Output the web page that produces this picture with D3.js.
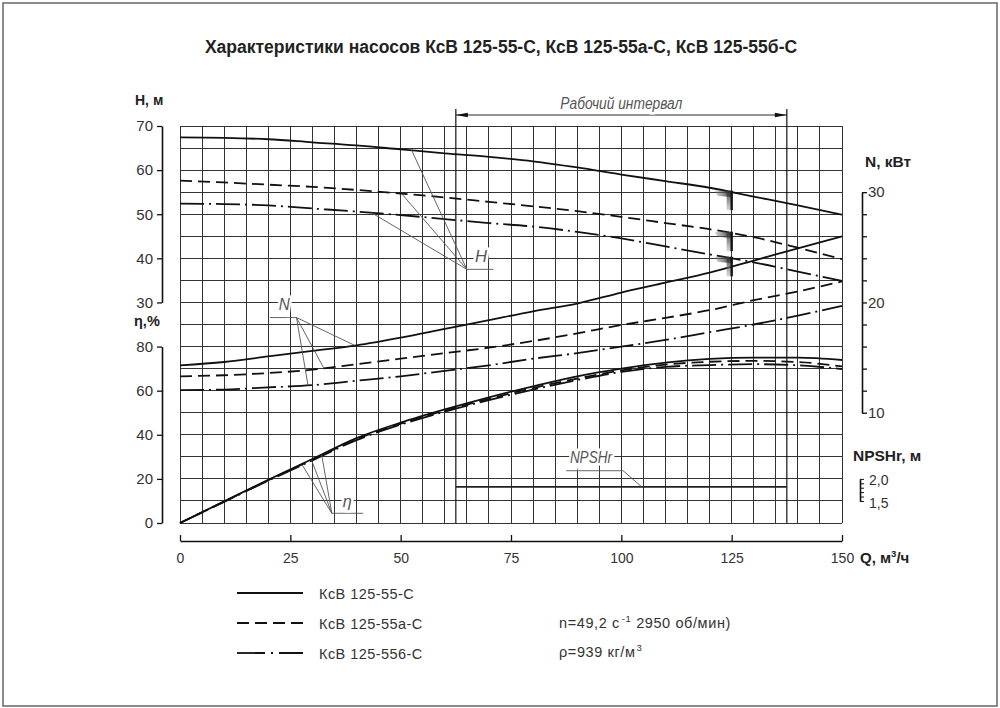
<!DOCTYPE html>
<html>
<head>
<meta charset="utf-8">
<script src="https://cdn.jsdelivr.net/npm/d3@7"></script>
<style>
  body { margin: 0; background: #fff; }
  svg { display: block; }
  text { font-family: "Liberation Sans", Arial, sans-serif; }
</style>
</head>
<body>
<svg id="chart" width="1000" height="708"></svg>
<script>
// flow, m3/h
const qValues = [0, 10, 20, 30, 40, 50, 60, 70, 80, 90, 100, 110, 120, 130, 140, 150];

// head H, m
const headA = [67.4, 67.3, 67.0, 66.3, 65.6, 64.7, 63.8, 63.0, 62.0, 60.6, 59.0, 57.5, 56.0, 54.0, 52.0, 49.9];
const headB = [57.6, 57.2, 56.7, 56.2, 55.5, 54.7, 53.8, 52.8, 51.8, 50.7, 49.4, 48.0, 46.6, 44.8, 42.4, 39.8];
const headC = [52.4, 52.3, 52.0, 51.3, 50.6, 49.8, 48.9, 48.0, 47.2, 46.0, 44.5, 42.7, 40.9, 39.1, 37.0, 34.9];

// power N, kW
const powerA = [14.3, 14.6, 15.1, 15.6, 16.1, 16.8, 17.6, 18.4, 19.2, 19.9, 20.9, 21.8, 22.7, 23.8, 24.9, 26.0];
const powerB = [13.3, 13.4, 13.6, 13.9, 14.4, 14.9, 15.4, 15.9, 16.5, 17.2, 17.95, 18.6, 19.3, 20.2, 21.0, 21.9];
const powerC = [12.05, 12.1, 12.3, 12.5, 12.9, 13.3, 13.8, 14.3, 14.9, 15.4, 16.0, 16.6, 17.3, 18.0, 18.8, 19.7];

// efficiency, %
const effA = [0, 9.8, 19.6, 29.0, 38.5, 45.5, 51.5, 57.0, 62.0, 66.5, 70.0, 72.7, 74.4, 75.0, 75.0, 73.9];
const effB = [0, 9.7, 19.4, 28.7, 38.0, 45.0, 51.0, 56.3, 61.2, 65.5, 69.2, 71.8, 73.1, 73.5, 73.0, 71.0];
const effC = [0, 9.6, 19.2, 28.4, 37.6, 44.6, 50.5, 55.7, 60.5, 64.8, 68.5, 70.8, 71.6, 72.0, 71.5, 69.8];

// NPSHr, m (over the working interval)
const npshQ = [62.5, 137.5];
const npshValues = [1.82, 1.82];

const workRange = [62.5, 137.5];
const boundaryQ = 125;

const pumpNames = ['КсВ 125-55-С', 'КсВ 125-55а-С', 'КсВ 125-556-С'];
const xTicks = [0, 25, 50, 75, 100, 125, 150];
const hTicks = [30, 40, 50, 60, 70];
const etaTicks = [0, 20, 40, 60, 80];
const nTicks = [10, 12, 14, 16, 18, 20, 22, 24, 26, 28, 30];
const nLabels = [10, 20, 30];
const npshTicks = [1.5, 1.6, 1.7, 1.8, 1.9, 2.0];
const npshLabels = [1.5, 2.0];

const dashes = [null, '12,6', '24,5,2,5'];

//------------------------------------------------

const svg = d3.select('#chart');
const plotTop = 126, plotBottom = 523;
const row = (plotBottom - plotTop) / 18;

const x = d3.scaleLinear().domain([0, 150]).range([180, 842]);
const yEta = d3.scaleLinear().domain([0, 100]).range([plotBottom, plotBottom - 10 * row]);
const yH = d3.scaleLinear().domain([30, 70]).range([plotTop + 8 * row, plotTop]);
const yN = d3.scaleLinear().domain([10, 30]).range([plotTop + 13 * row, plotTop + 3 * row]);
const yNpsh = d3.scaleLinear().domain([1.5, 2.0]).range([plotTop + 17 * row, plotTop + 16 * row]);

function interp(values, q) {
  const i = Math.min(qValues.length - 2, Math.floor(q / 10));
  const t = (q - qValues[i]) / (qValues[i + 1] - qValues[i]);
  return values[i] + t * (values[i + 1] - values[i]);
}

// frame
svg.append('rect')
  .attr('x', 3).attr('y', 3).attr('width', 994).attr('height', 703)
  .attr('fill', '#fff').attr('stroke', '#666').attr('stroke-width', 1.5);

// title
svg.append('text')
  .attr('x', 501).attr('y', 53)
  .attr('text-anchor', 'middle')
  .attr('font-size', 17.5).attr('font-weight', 'bold').attr('fill', '#222')
  .text('Характеристики насосов КсВ 125-55-С, КсВ 125-55а-С, КсВ 125-55б-С');

// grid
const grid = svg.append('g')
  .attr('stroke', '#333').attr('stroke-width', 1).attr('shape-rendering', 'crispEdges');
grid.selectAll('line.v').data(d3.range(0, 151, 5)).join('line').attr('class', 'v')
  .attr('x1', d => x(d)).attr('x2', d => x(d))
  .attr('y1', plotTop).attr('y2', plotBottom);
grid.selectAll('line.h').data(d3.range(0, 181, 10)).join('line').attr('class', 'h')
  .attr('x1', x(0)).attr('x2', x(150))
  .attr('y1', d => yEta(d)).attr('y2', d => yEta(d));

// working interval
const work = svg.append('g').attr('stroke', '#111');
work.selectAll('line.wv').data(workRange).join('line').attr('class', 'wv')
  .attr('x1', d => x(d)).attr('x2', d => x(d))
  .attr('y1', 109).attr('y2', plotBottom)
  .attr('stroke-width', 1.2);
work.append('line')
  .attr('x1', x(workRange[0])).attr('x2', x(workRange[1]))
  .attr('y1', 115).attr('y2', 115).attr('stroke-width', 0.9);
work.selectAll('path.arr').data(workRange).join('path').attr('class', 'arr')
  .attr('fill', '#111').attr('stroke', 'none')
  .attr('d', (d, i) => {
    const px = x(d), s = i === 0 ? 1 : -1;
    return `M${px},115 L${px + s * 12},112.8 L${px + s * 12},117.2 Z`;
  });

function cadText(px, py, txt, width) {
  return svg.append('text')
    .attr('x', px).attr('y', py)
    .attr('text-anchor', 'middle')
    .attr('font-style', 'italic').attr('font-size', 16).attr('fill', '#555')
    .attr('textLength', width).attr('lengthAdjust', 'spacingAndGlyphs')
    .attr('stroke', '#fff').attr('stroke-width', 5).attr('paint-order', 'stroke')
    .text(txt);
}
cadText((x(workRange[0]) + x(workRange[1])) / 2, 109, 'Рабочий интервал', 122);

// curves
const heads = [headA, headB, headC];
const powers = [powerA, powerB, powerC];
const effs = [effA, effB, effC];

function drawCurves(sets, yScale) {
  const line = d3.line()
    .x((d, i) => x(qValues[i]))
    .y(d => yScale(d))
    .curve(d3.curveMonotoneX);
  svg.append('g').selectAll('path').data(sets).join('path')
    .attr('d', line)
    .attr('fill', 'none').attr('stroke', '#111').attr('stroke-width', 1.8)
    .attr('stroke-dasharray', (d, i) => dashes[i]);
}
drawCurves(heads, yH);
drawCurves(powers, yN);
drawCurves(effs, yEta);

// NPSHr
svg.append('path')
  .datum(npshValues)
  .attr('d', d3.line().x((d, i) => x(npshQ[i])).y(d => yNpsh(d)))
  .attr('fill', 'none').attr('stroke', '#222').attr('stroke-width', 1.6);

// boundary marks at Q = 125 on H curves
const defs = svg.append('defs');
const fade = defs.append('linearGradient').attr('id', 'fade')
  .attr('x1', 0).attr('x2', 1).attr('y1', 0).attr('y2', 0);
fade.append('stop').attr('offset', '0%').attr('stop-color', '#888').attr('stop-opacity', 0.35);
fade.append('stop').attr('offset', '100%').attr('stop-color', '#222').attr('stop-opacity', 0.95);
const fadeDown = defs.append('linearGradient').attr('id', 'fadeDown')
  .attr('x1', 0).attr('x2', 0).attr('y1', 0).attr('y2', 1);
fadeDown.append('stop').attr('offset', '0%').attr('stop-color', '#333').attr('stop-opacity', 0.9);
fadeDown.append('stop').attr('offset', '100%').attr('stop-color', '#999').attr('stop-opacity', 0.4);

const marks = svg.append('g');
heads.forEach(h => {
  const px = x(boundaryQ), py = yH(interp(h, boundaryQ));
  marks.append('path')
    .attr('d', `M${px - 17},${py - 1.5} L${px},${py - 1.5} L${px},${py + 5} L${px - 14},${py + 3.5} Z`)
    .attr('fill', 'url(#fade)');
  marks.append('rect')
    .attr('x', px - 5).attr('y', py).attr('width', 5).attr('height', 18)
    .attr('fill', 'url(#fadeDown)');
  marks.append('line')
    .attr('x1', px).attr('x2', px).attr('y1', py - 1.5).attr('y2', py + 18)
    .attr('stroke', '#111').attr('stroke-width', 2.4);
});

// leader annotations
const leaderColor = '#555';
function leader(anchor, endQ, targets, yScale) {
  const g = svg.append('g').attr('stroke', leaderColor).attr('stroke-width', 0.9).attr('fill', 'none');
  g.append('line')
    .attr('x1', x(anchor[0])).attr('x2', x(endQ))
    .attr('y1', yScale(anchor[1])).attr('y2', yScale(anchor[1]));
  targets.forEach(t => {
    g.append('line')
      .attr('x1', x(anchor[0])).attr('y1', yScale(anchor[1]))
      .attr('x2', x(t[0])).attr('y2', t[1]);
  });
}

leader([65, 37.5], 71, [[52.5, yH(interp(headA, 52.5))], [50.2, yH(interp(headB, 50.2))], [43.4, yH(interp(headC, 43.4))]], yH);
cadText(x(68.2), 262, 'H', 12);

leader([26.4, 18.63], 20.4, [[39.7, yN(interp(powerA, 39.7))], [32.6, yN(interp(powerB, 32.6))], [29.0, yN(interp(powerC, 29.0))]], yN);
cadText(x(23.6), 310, 'N', 11);

leader([34.4, 4.4], 41.5, [[27.7, yEta(interp(effC, 27.7))], [29.8, yEta(interp(effB, 29.8))], [32.1, yEta(interp(effA, 32.1))]], yEta);
cadText(x(37.9), 507, 'η', 9);

// NPSHr leader
const npshLead = svg.append('g').attr('stroke', leaderColor).attr('stroke-width', 0.9);
npshLead.append('line').attr('x1', x(87.5)).attr('x2', x(100.4)).attr('y1', yEta(23.7)).attr('y2', yEta(23.7));
npshLead.append('line').attr('x1', x(100.4)).attr('x2', x(104.6)).attr('y1', yEta(23.7)).attr('y2', yNpsh(npshValues[0]));
cadText(x(93.1), 463, 'NPSHr', 42);

// axes
function styleAxis(g) {
  g.attr('font-family', null).attr('font-size', null);
  g.select('.domain').attr('stroke', '#111').attr('stroke-width', 1.6);
  g.selectAll('.tick line').attr('stroke', '#111').attr('stroke-width', 1.3);
  g.selectAll('.tick text').attr('fill', '#333').attr('font-size', 14);
}

svg.append('g').attr('transform', 'translate(162,0)')
  .call(d3.axisLeft(yH).tickValues(hTicks).tickSize(5).tickSizeOuter(0).tickPadding(4))
  .call(styleAxis)
  .call(g => g.selectAll('.tick text').attr('font-size', 15));

const etaAxis = d3.scaleLinear().domain([0, 80]).range([yEta(0), yEta(80)]);
svg.append('g').attr('transform', 'translate(162,0)')
  .call(d3.axisLeft(etaAxis).tickValues(etaTicks).tickSize(5).tickSizeOuter(0).tickPadding(4))
  .call(styleAxis)
  .call(g => g.selectAll('.tick text').attr('font-size', 15));

svg.append('g').attr('transform', 'translate(862,0)')
  .call(d3.axisRight(yN).tickValues(nTicks).tickSize(5).tickSizeOuter(0).tickPadding(1)
    .tickFormat(d => nLabels.includes(d) ? d : ''))
  .call(styleAxis)
  .call(g => g.selectAll('.tick text').attr('font-size', 15));

svg.append('g').attr('transform', 'translate(860,0)')
  .call(d3.axisRight(yNpsh).tickValues(npshTicks).tickSize(4).tickSizeOuter(0).tickPadding(5)
    .tickFormat(d => npshLabels.includes(d) ? d3.format('.1f')(d).replace('.', ',') : ''))
  .call(styleAxis)
  .call(g => g.selectAll('.tick line').attr('stroke-width', 1))
  .call(g => g.selectAll('.tick text').attr('font-size', 14)
    .attr('dy', d => d === 2.0 ? '0.4em' : '0.45em'));

svg.append('g').attr('transform', `translate(0,541)`)
  .call(d3.axisBottom(x).tickValues(xTicks).tickSize(-6).tickSizeOuter(0).tickPadding(12))
  .call(styleAxis);

// axis titles
const axisTitles = [
  { x: 135, y: 105, t: 'H, м', s: 14 },
  { x: 134, y: 326, t: 'η,%', s: 14.5 },
  { x: 865, y: 167, t: 'N, кВт', s: 15.5 },
  { x: 853, y: 461, t: 'NPSHr, м', s: 15.5 },
];
svg.append('g').selectAll('text').data(axisTitles).join('text')
  .attr('x', d => d.x).attr('y', d => d.y)
  .attr('font-size', d => d.s).attr('font-weight', 'bold').attr('fill', '#222')
  .text(d => d.t);
const qTitle = svg.append('text').attr('x', 860).attr('y', 563)
  .attr('font-size', 15).attr('font-weight', 'bold').attr('fill', '#222');
qTitle.append('tspan').text('Q, м');
qTitle.append('tspan').attr('font-size', 9.5).attr('dy', -6).text('3');
qTitle.append('tspan').attr('dy', 6).text('/ч');

// legend
const legend = svg.append('g').selectAll('g').data(pumpNames).join('g')
  .attr('transform', (d, i) => `translate(237,${593 + i * 30})`);
legend.append('line')
  .attr('x1', 0).attr('x2', 66).attr('y1', 0).attr('y2', 0)
  .attr('stroke', '#111').attr('stroke-width', 1.8)
  .attr('stroke-dasharray', (d, i) => i === 2 ? '28,6,2,6' : dashes[i]);
legend.append('text')
  .attr('x', 82).attr('y', 6)
  .attr('font-size', 14.5).attr('fill', '#333').attr('letter-spacing', 0.45)
  .text(d => d);

const speed = svg.append('text').attr('x', 559).attr('y', 628)
  .attr('font-size', 14.5).attr('fill', '#333').attr('letter-spacing', 0.6);
speed.append('tspan').text('n=49,2 с');
speed.append('tspan').attr('font-size', 9.5).attr('dy', -6).attr('dx', 2).text('-1');
speed.append('tspan').attr('dy', 6).text(' 2950 об/мин)');

const density = svg.append('text').attr('x', 559).attr('y', 657)
  .attr('font-size', 14.5).attr('fill', '#333').attr('letter-spacing', 0.6);
density.append('tspan').text('ρ=939 кг/м');
density.append('tspan').attr('font-size', 9.5).attr('dy', -6).attr('dx', 1).text('3');
</script>
</body>
</html>
